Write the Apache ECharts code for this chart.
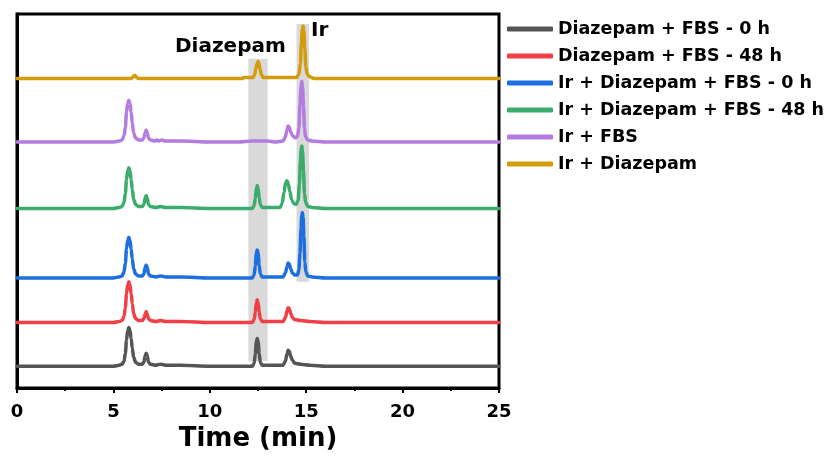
<!DOCTYPE html>
<html><head><meta charset="utf-8">
<script src="https://cdn.jsdelivr.net/npm/echarts@6/dist/echarts.min.js"></script>
<style>html,body{margin:0;padding:0;background:#fff}#c{width:827px;height:457px}</style>
</head><body><div id="c"></div>
<script>
const seriesNames = ["Diazepam + FBS - 0 h","Diazepam + FBS - 48 h","Ir + Diazepam + FBS - 0 h","Ir + Diazepam + FBS - 48 h","Ir + FBS","Ir + Diazepam"];
const colors = ["#555555","#ef4047","#1d6fe0","#3cac6c","#b47ce0","#d39c0b"];
const offsets = [22, 66, 111, 181, 248, 312];
const xTicks = [0,5,10,15,20,25];
const bands = [[12.0,13.0,27,332],[14.5,15.15,107,367]];

const gray0h = [[0,0],[5.0,0],[5.3,1],[5.45,2],[5.55,5],[5.62,13],[5.68,26],[5.74,36],[5.8,39],[5.86,36],[5.92,28],[5.98,18],[6.05,9],[6.15,4],[6.3,2],[6.5,2],[6.58,4],[6.64,10],[6.7,13],[6.76,10],[6.82,4],[6.92,2],[7.2,1],[7.45,2],[7.7,1],[8.5,1],[10,0],[12.2,0],[12.3,3],[12.36,12],[12.41,24],[12.46,28],[12.51,24],[12.56,13],[12.62,4],[12.72,1],[13.2,1],[13.8,1],[13.92,5],[14.0,12],[14.06,16],[14.12,15],[14.2,10],[14.28,6],[14.4,3],[14.7,2],[15.2,1],[16,0],[25,0]];
const red48h = [[0,0],[5.0,0],[5.3,1],[5.45,2],[5.55,6],[5.62,15],[5.68,29],[5.74,38],[5.8,41],[5.86,38],[5.92,29],[5.98,19],[6.05,9],[6.15,4],[6.3,2],[6.5,2],[6.58,4],[6.64,8],[6.7,11],[6.76,8],[6.82,4],[6.92,2],[7.2,1],[7.45,2],[7.7,1],[8.5,1],[10,0],[12.2,0],[12.3,3],[12.36,10],[12.41,20],[12.46,23],[12.51,20],[12.56,11],[12.62,4],[12.72,1],[13.2,1],[13.8,1],[13.92,5],[14.0,11],[14.06,15],[14.12,14],[14.2,9],[14.28,5],[14.4,3],[14.7,2],[15.2,1],[16,0],[25,0]];
const irDz0h = [[0,0],[5.0,0],[5.3,1],[5.45,2],[5.55,6],[5.62,15],[5.68,29],[5.74,38],[5.8,41],[5.86,38],[5.92,29],[5.98,19],[6.05,9],[6.15,4],[6.3,2],[6.5,2],[6.58,4],[6.64,10],[6.7,13],[6.76,10],[6.82,4],[6.92,2],[7.2,1],[7.45,2],[7.7,1],[8.5,1],[10,0],[12.2,0],[12.3,3],[12.36,12],[12.41,24],[12.46,28],[12.51,24],[12.56,13],[12.62,4],[12.72,1],[13.2,1],[13.8,1],[13.92,5],[14.0,11],[14.06,15],[14.12,14],[14.2,9],[14.28,5],[14.4,3],[14.55,3],[14.62,8],[14.68,25],[14.73,50],[14.77,63],[14.8,66],[14.84,61],[14.88,42],[14.93,16],[14.98,6],[15.08,2],[15.3,1],[16,0],[25,0]];
const irDz48h = [[0,0],[5.0,0],[5.3,1],[5.45,2],[5.55,6],[5.62,15],[5.68,29],[5.74,38],[5.8,41],[5.86,38],[5.92,29],[5.98,19],[6.05,9],[6.15,4],[6.3,2],[6.5,2],[6.58,4],[6.64,10],[6.7,13],[6.76,10],[6.82,4],[6.92,2],[7.2,1],[7.45,2],[7.7,1],[8.5,1],[10,0],[12.2,0],[12.3,3],[12.36,10],[12.41,20],[12.46,23],[12.51,20],[12.56,11],[12.62,4],[12.72,1],[13.2,1],[13.65,1],[13.75,5],[13.85,16],[13.93,26],[14.0,28],[14.07,25],[14.15,17],[14.24,9],[14.35,5],[14.48,4],[14.58,8],[14.65,25],[14.7,48],[14.74,60],[14.77,63],[14.81,58],[14.86,38],[14.91,15],[14.97,6],[15.08,2],[15.3,1],[16,0],[25,0]];
const irFbs = [[0,0],[5.0,0],[5.3,1],[5.45,2],[5.55,6],[5.62,15],[5.68,30],[5.74,39],[5.8,42],[5.86,39],[5.92,30],[5.98,19],[6.05,9],[6.15,4],[6.3,2],[6.5,2],[6.58,4],[6.64,9],[6.7,12],[6.76,9],[6.82,4],[6.92,2],[7.15,1],[7.25,2],[7.35,1],[7.5,2],[7.7,1],[8.5,1],[10,0],[11.5,0],[12.2,1],[13.0,1],[13.4,0],[13.8,1],[13.92,5],[14.0,12],[14.06,16],[14.12,15],[14.2,10],[14.3,6],[14.45,4],[14.55,6],[14.62,14],[14.68,38],[14.73,56],[14.77,61],[14.81,56],[14.86,36],[14.91,14],[14.97,5],[15.08,2],[15.3,1],[16,0],[25,0]];
const irDz = [[0,0],[5.9,0],[6.0,1],[6.07,3],[6.13,3],[6.2,1],[6.3,0],[11.7,0],[11.75,1],[12.25,1],[12.33,4],[12.39,10],[12.45,15],[12.5,17],[12.55,15],[12.61,9],[12.67,4],[12.77,1],[13.9,1],[14.5,1],[14.62,4],[14.7,15],[14.75,35],[14.8,50],[14.84,53],[14.88,48],[14.93,30],[14.98,12],[15.04,5],[15.15,2],[15.4,0],[25,0]];
const traces = [gray0h, red48h, irDz0h, irDz48h, irFbs, irDz];

const FONT = "DejaVu Sans";
const chart = echarts.init(document.getElementById('c'));
const series = seriesNames.map((name, i) => {
  const s = {
    name, type: 'line', showSymbol: false, symbol: 'none',
    smooth: 0.3, smoothMonotone: 'x',
    data: traces[i].map(p => [p[0], p[1] + offsets[i]]),
    lineStyle: { color: colors[i], width: 3.5, join: 'round', cap: 'round' },
    itemStyle: { color: colors[i] },
    z: 3
  };
  if (i === 0) {
    s.markArea = {
      silent: true,
      itemStyle: { color: '#d9d9d9' },
      data: bands.map(b => [{ xAxis: b[0], yAxis: b[2] }, { xAxis: b[1], yAxis: b[3] }])
    };
  }
  return s;
});

chart.setOption({
  animation: false,
  backgroundColor: '#fff',
  grid: { left: 17, right: 328, top: 14, bottom: 66, show: true, borderColor: '#000', borderWidth: 3 },
  legend: {
    data: seriesNames, orient: 'vertical', left: 507, top: 19, padding: 0,
    icon: 'roundRect', itemWidth: 46, itemHeight: 5, itemGap: 7,
    textStyle: { fontFamily: FONT, fontWeight: 'bold', fontSize: 17.5, color: '#000', lineHeight: 20 }
  },
  xAxis: {
    type: 'value', min: 0, max: 25, interval: 5,
    name: 'Time (min)', nameLocation: 'middle', nameGap: 38,
    nameTextStyle: { fontFamily: FONT, fontWeight: 'bold', fontSize: 26, color: '#000' },
    axisLine: { show: true, lineStyle: { color: '#000', width: 3 } },
    axisTick: { show: true, length: 5, lineStyle: { color: '#000', width: 2 } },
    minorTick: { show: true, splitNumber: 2, length: 3, lineStyle: { color: '#000', width: 2 } },
    axisLabel: { fontFamily: FONT, fontWeight: 'bold', fontSize: 18, color: '#000', margin: 15 },
    splitLine: { show: false }
  },
  yAxis: {
    type: 'value', min: 0, max: 377,
    axisLine: { show: true, lineStyle: { color: '#000', width: 3 } },
    axisTick: { show: false }, axisLabel: { show: false }, splitLine: { show: false }
  },
  graphic: [
    { type: 'text', left: 175, top: 37, style: { text: 'Diazepam', fontFamily: FONT, fontWeight: 'bold', fontSize: 20, fill: '#000' } },
    { type: 'text', left: 311, top: 21, style: { text: 'Ir', fontFamily: FONT, fontWeight: 'bold', fontSize: 20, fill: '#000' } }
  ],
  series
});
</script>
</body></html>
